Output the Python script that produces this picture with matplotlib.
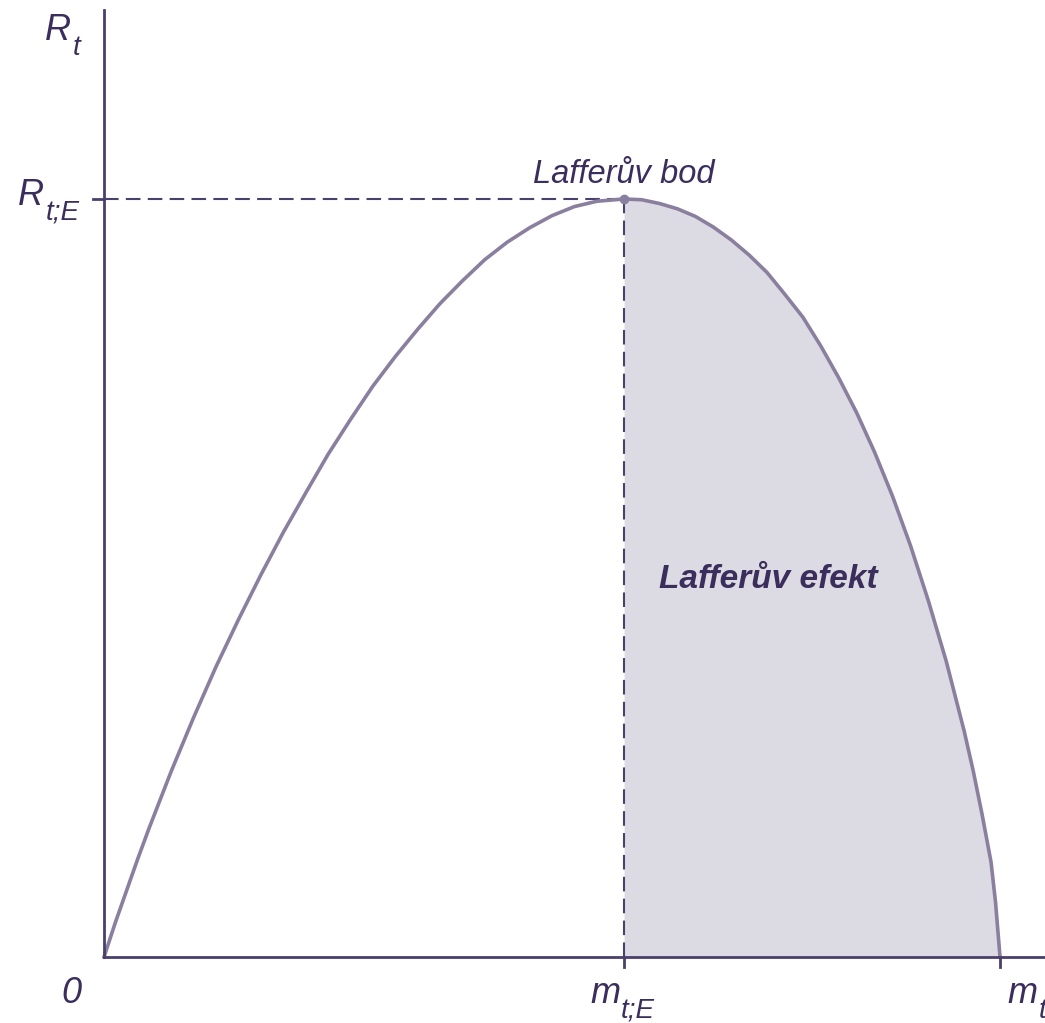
import numpy as np
import matplotlib
matplotlib.use('Agg')
import matplotlib.pyplot as plt

plt.rcParams['font.family'] = ['Liberation Sans', 'DejaVu Sans']

# Laffer curve (tax rate m_t, revenue R_t), normalised 0..1
m_t = [0.0, 0.0125, 0.025, 0.0375, 0.05, 0.075, 0.10, 0.125, 0.15, 0.175,
       0.20, 0.225, 0.25, 0.275, 0.30, 0.325, 0.35, 0.375, 0.40, 0.425,
       0.45, 0.475, 0.50, 0.525, 0.55, 0.5804, 0.60, 0.62, 0.64, 0.66,
       0.68, 0.70, 0.72, 0.74, 0.76, 0.78, 0.80, 0.82, 0.84, 0.86, 0.88,
       0.90, 0.92, 0.94, 0.96, 0.97, 0.98, 0.99, 0.995, 1.0]
R_t = [0.0, 0.045, 0.087, 0.129, 0.169, 0.245, 0.316, 0.383, 0.445, 0.504,
       0.560, 0.612, 0.663, 0.709, 0.753, 0.792, 0.828, 0.862, 0.892, 0.920,
       0.943, 0.962, 0.978, 0.990, 0.997, 1.0, 0.999, 0.994, 0.987, 0.977,
       0.963, 0.946, 0.926, 0.903, 0.874, 0.844, 0.806, 0.764, 0.718, 0.666,
       0.608, 0.543, 0.470, 0.390, 0.298, 0.246, 0.188, 0.125, 0.072, 0.0]

m_E = 0.5804   # Lafferuv bod
R_E = 1.0

axis_col = '#4b3f6b'
text_col = '#3b2d5c'
curve_col = '#8a7f9e'
fill_col = '#dcdbe3'

fig = plt.figure(figsize=(10.45, 10.23), dpi=100)
ax = fig.add_axes([0, 0, 1, 1])
ax.set_xlim(-0.1161, 1.0502)
ax.set_ylim(-0.0871, 1.2625)
ax.axis('off')

x = np.array(m_t)
y = np.array(R_t)

# shaded area right of the Laffer point
right = x >= m_E
ax.fill_between(x[right], 0, y[right], color=fill_col, lw=0, zorder=1)

# dashed guides
ax.plot([0, m_E], [R_E, R_E], color=axis_col, lw=1.5, dashes=(7, 3.5), zorder=2)
ax.plot([m_E, m_E], [0, R_E], color=axis_col, lw=1.5, dashes=(7, 3.5), zorder=2)

# curve
ax.plot(x, y, color=curve_col, lw=2.6, solid_joinstyle='round', zorder=3)
ax.plot([m_E], [R_E], 'o', color=curve_col, ms=6, zorder=4)

# axes
ax.plot([0, 0], [0, 1.2493], color=axis_col, lw=2, zorder=5)
ax.plot([0, 1.0502], [0, 0], color=axis_col, lw=2, zorder=5)
ax.plot([-0.0123, 0], [R_E, R_E], color=axis_col, lw=2, zorder=5)
ax.plot([m_E, m_E], [0, -0.0132], color=axis_col, lw=2, zorder=5)
ax.plot([1.0, 1.0], [0, -0.0132], color=axis_col, lw=2, zorder=5)

# labels (main letter + subscript)
fs, fs_sub = 26, 20
kw = dict(style='italic', color=text_col, va='baseline', ha='left')
ax.text(-0.0658, 1.2098, 'R', fontsize=fs, **kw)
ax.text(-0.0346, 1.1900, 't', fontsize=fs_sub, **kw)
ax.text(-0.0960, 0.9921, 'R', fontsize=fs, **kw)
ax.text(-0.0647, 0.9723, 't;E', fontsize=fs_sub, **kw)
ax.text(-0.0480, -0.0607, '0', fontsize=fs, **kw)
ax.text(0.5424, -0.0607, 'm', fontsize=fs, **kw)
ax.text(0.5770, -0.0805, 't;E', fontsize=fs_sub, **kw)
ax.text(1.0078, -0.0607, 'm', fontsize=fs, **kw)
ax.text(1.0435, -0.0805, 't', fontsize=fs_sub, **kw)

ax.text(m_E, 1.021, 'Lafferův bod', fontsize=23.5, style='italic', color=text_col,
        ha='center', va='baseline')
ax.text(0.741, 0.487, 'Lafferův efekt', fontsize=24, style='italic', weight='bold',
        color=text_col, ha='center', va='baseline')

plt.savefig('out.png', dpi=100)
